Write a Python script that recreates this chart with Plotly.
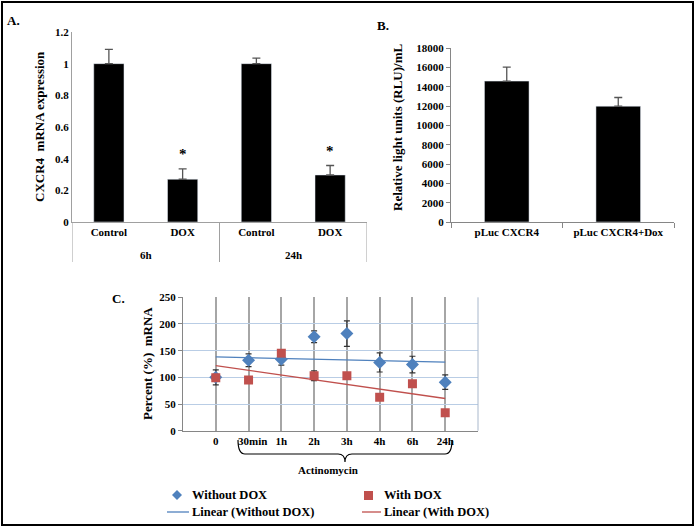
import numpy as np
import plotly.graph_objects as go

W, H = 695, 527

# panel A - CXCR4 mRNA expression
a_groups = ["6h", "24h"]
a_labels = ["Control", "DOX", "Control", "DOX"]
a_values = [1.0, 0.27, 1.0, 0.297]
a_errors = [0.09, 0.065, 0.035, 0.06]
a_stars = ["", "*", "", "*"]

# panel B - luciferase
b_labels = ["pLuc CXCR4", "pLuc CXCR4+Dox"]
b_values = [14600, 12000]
b_errors = [1450, 900]

# panel C - mRNA stability
c_labels = ["0", "\u00a0\u00a0\u00a030min", "1h", "2h", "3h", "4h", "6h", "24h"]
c_without = [100, 132, 134, 176, 182, 128, 124, 91]
c_without_err = [14, 12, 11, 11, 24, 18, 15.5, 13.5]
c_with = [99, 95, 145, 103, 103, 62.5, 88, 33.7]
c_with_err = [0, 0, 0, 9, 0, 0, 0, 0]

SERIF = "Liberation Serif, Times New Roman, serif"
BLUE = "#4F81BD"
RED = "#C0504D"
AXIS = "#868686"


def px(x):
    return x / W


def py(y):
    return 1 - y / H


def bold(size):
    return dict(family=SERIF, size=size, color="black", weight="bold")


def note(x, y, text, size, **kw):
    a = dict(x=px(x), y=py(y), xref="paper", yref="paper", text=text,
             showarrow=False, font=bold(size), xanchor="center", yanchor="middle")
    a.update(kw)
    return a


fig = go.Figure()

# A
xa = list(range(len(a_labels)))
fig.add_trace(go.Bar(
    x=xa, y=a_values, width=0.41, marker_color="black", xaxis="x", yaxis="y",
    error_y=dict(type="data", symmetric=False, array=a_errors,
                 arrayminus=[0] * len(a_errors), color="#555555",
                 thickness=1.3, width=4),
    showlegend=False))

# B
fig.add_trace(go.Bar(
    x=b_labels, y=b_values, width=0.4, marker_color="black", xaxis="x2", yaxis="y2",
    error_y=dict(type="data", symmetric=False, array=b_errors,
                 arrayminus=[0] * len(b_errors), color="#555555",
                 thickness=1.3, width=4),
    showlegend=False))

# C
xc = np.arange(len(c_labels))
fig.add_trace(go.Scatter(
    x=xc, y=c_without, mode="markers", xaxis="x3", yaxis="y3",
    marker=dict(symbol="diamond", size=10, color=BLUE),
    error_y=dict(type="data", array=c_without_err, color="#333333",
                 thickness=1.2, width=3),
    showlegend=False))
fig.add_trace(go.Scatter(
    x=xc, y=c_with, mode="markers", xaxis="x3", yaxis="y3",
    marker=dict(symbol="square", size=9, color=RED),
    error_y=dict(type="data", array=c_with_err, color="#333333",
                 thickness=1.2, width=3),
    showlegend=False))

for series, color in [(c_without, BLUE), (c_with, RED)]:
    k, b = np.polyfit(xc, series, 1)
    ends = np.array([xc[0], xc[-1]])
    fig.add_trace(go.Scatter(
        x=ends, y=k * ends + b, mode="lines", xaxis="x3", yaxis="y3",
        line=dict(color=color, width=1.3), showlegend=False))

shapes = []
annotations = []

# A: category dividers and group labels
for xv in [-0.5, 1.5, 3.5]:
    shapes.append(dict(type="line", xref="x", yref="paper", x0=xv, x1=xv,
                       y0=py(222), y1=py(262), line=dict(color="#A0A0A0", width=1)))
for i, g in enumerate(a_groups):
    annotations.append(dict(x=2 * i + 0.5, xref="x", y=py(255), yref="paper",
                            text=g, showarrow=False, font=bold(11),
                            xanchor="center", yanchor="middle"))
for i, s in enumerate(a_stars):
    if s:
        annotations.append(dict(x=i, xref="x", y=a_values[i] + a_errors[i] + 0.03,
                                yref="y", yanchor="bottom", text=s,
                                showarrow=False, font=bold(15)))

# C: right border
shapes.append(dict(type="line", xref="paper", yref="paper", x0=px(478), x1=px(478),
                   y0=py(430.7), y1=py(297.3), line=dict(color="#A9B8CC", width=1)))

# brace under Actinomycin
brace = [(238, 440), (238, 454), (245, 454), (338, 454), (345, 454), (345, 462),
         (345, 454), (352, 454), (445, 454), (452, 454), (452, 440)]
p = [(px(x), py(y)) for x, y in brace]
path = (f"M {p[0][0]},{p[0][1]} Q {p[1][0]},{p[1][1]} {p[2][0]},{p[2][1]} "
        f"L {p[3][0]},{p[3][1]} Q {p[4][0]},{p[4][1]} {p[5][0]},{p[5][1]} "
        f"Q {p[6][0]},{p[6][1]} {p[7][0]},{p[7][1]} L {p[8][0]},{p[8][1]} "
        f"Q {p[9][0]},{p[9][1]} {p[10][0]},{p[10][1]}")
shapes.append(dict(type="path", xref="paper", yref="paper", path=path,
                   line=dict(color="black", width=1.2)))
annotations.append(note(328, 470, "Actinomycin", 11))

# legend of C, drawn by hand
cx, cy = 177, 495
d = [(cx, cy - 5), (cx + 5, cy), (cx, cy + 5), (cx - 5, cy)]
dp = " L ".join(f"{px(x)},{py(y)}" for x, y in d)
shapes.append(dict(type="path", xref="paper", yref="paper", path=f"M {dp} Z",
                   fillcolor=BLUE, line=dict(color=BLUE, width=0)))
shapes.append(dict(type="rect", xref="paper", yref="paper",
                   x0=px(364), x1=px(373), y0=py(491), y1=py(500),
                   fillcolor=RED, line=dict(width=0)))
shapes.append(dict(type="line", xref="paper", yref="paper", x0=px(167), x1=px(189),
                   y0=py(512), y1=py(512), line=dict(color=BLUE, width=1.3)))
shapes.append(dict(type="line", xref="paper", yref="paper", x0=px(362), x1=px(381),
                   y0=py(512), y1=py(512), line=dict(color=RED, width=1.3)))
for x, y, t in [(190, 495, "Without DOX"), (382, 495, "With DOX"),
                (190, 512, "Linear (Without DOX)"), (382, 512, "Linear (With DOX)")]:
    annotations.append(note(x, y, t, 12.5, xanchor="left"))

# panel letters and y titles
for x, y, t in [(14, 20, "A."), (383, 25, "B."), (118, 298, "C.")]:
    annotations.append(note(x, y, t, 13))
for x, y, t in [(40, 127, "CXCR4  mRNA expression"),
                (398, 127, "Relative light units (RLU)/mL"),
                (147, 364, "Percent (%)  mRNA")]:
    annotations.append(note(x, y, t, 13, textangle=-90))

# outer frame
shapes.append(dict(type="rect", xref="paper", yref="paper", x0=px(2), x1=px(693),
                   y0=py(525), y1=py(2), line=dict(color="black", width=2)))

fig.update_layout(
    width=W, height=H, margin=dict(l=0, r=0, t=0, b=0, autoexpand=False),
    paper_bgcolor="white", plot_bgcolor="white",
    font=dict(family=SERIF, color="black"),
    shapes=shapes, annotations=annotations,
    xaxis=dict(domain=[px(72), px(367)], anchor="y", range=[-0.5, 3.5],
               tickvals=xa, ticktext=a_labels, tickfont=bold(11),
               showline=True, linecolor="#A0A0A0", showgrid=False, zeroline=False,
               ticks="", automargin=False),
    yaxis=dict(domain=[py(222), py(32)], anchor="x", range=[0, 1.2], dtick=0.2,
               tickfont=bold(11), showline=True, linecolor="#A0A0A0",
               showgrid=False, zeroline=False, ticks="", automargin=False),
    xaxis2=dict(domain=[px(451), px(674)], anchor="y2", type="category",
                tickson="boundaries", ticks="outside", ticklen=5, tickcolor=AXIS,
                tickfont=bold(11), showline=True, linecolor=AXIS, showgrid=False,
                automargin=False),
    yaxis2=dict(domain=[py(222), py(48.3)], anchor="x2", range=[0, 18000],
                dtick=2000, tickformat="d", tickfont=bold(11), ticks="outside",
                ticklen=4, tickcolor=AXIS, showline=True, linecolor=AXIS,
                showgrid=False, zeroline=False, automargin=False),
    xaxis3=dict(domain=[px(183), px(478)], anchor="y3", range=[-1, 8],
                tickvals=list(xc), ticktext=c_labels, tickfont=bold(11),
                showline=True, linecolor=AXIS, showgrid=True, gridcolor="#A6A6A6",
                gridwidth=2, zeroline=False, ticks="", automargin=False),
    yaxis3=dict(domain=[py(430.7), py(297.3)], anchor="x3", range=[0, 250],
                dtick=50, tickfont=bold(11), ticks="outside", ticklen=4,
                tickcolor=AXIS, showline=True, linecolor=AXIS, showgrid=True,
                gridcolor="#B9CDE5", gridwidth=1, zeroline=False, automargin=False),
)

# the page's default 8px body margin would push the figure off the window
fig.write_html("out.html", config={"displayModeBar": False},
               post_script="document.body.style.margin='0';"
                           "document.body.style.overflow='hidden';")
